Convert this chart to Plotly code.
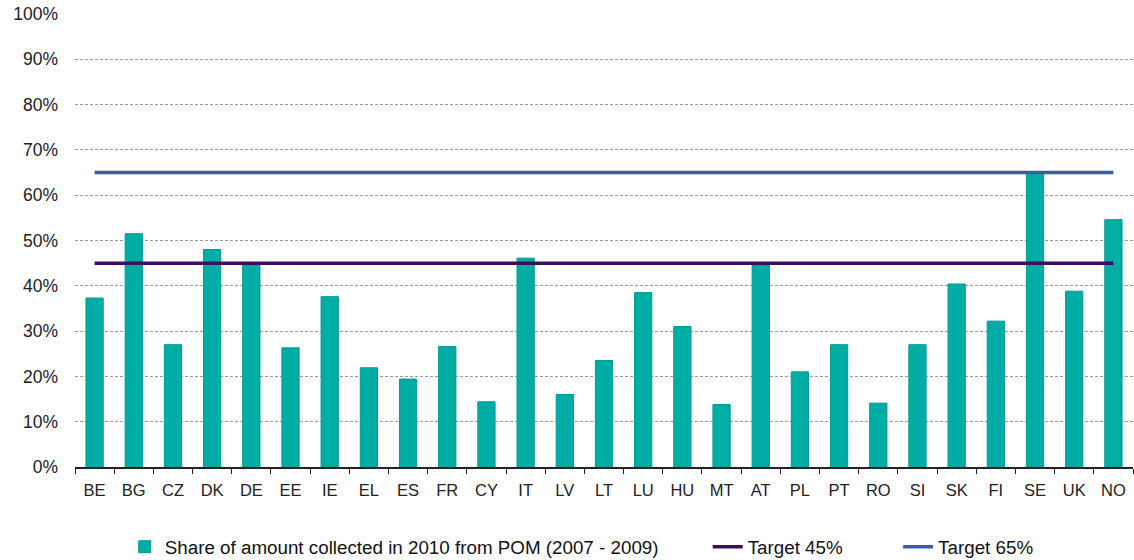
import plotly.graph_objects as go

countries = ["BE", "BG", "CZ", "DK", "DE", "EE", "IE", "EL", "ES", "FR", "CY", "IT", "LV", "LT",
             "LU", "HU", "MT", "AT", "PL", "PT", "RO", "SI", "SK", "FI", "SE", "UK", "NO"]
share = [37.3, 51.5, 27.0, 48.0, 44.6, 26.3, 37.6, 21.9, 19.4, 26.6, 14.4, 46.1, 16.0, 23.5,
         38.5, 31.0, 13.8, 44.6, 21.0, 27.0, 14.1, 27.0, 40.4, 32.2, 65.2, 38.8, 54.6]
target45 = [45] * len(countries)
target65 = [65] * len(countries)
y_ticks = [0, 10, 20, 30, 40, 50, 60, 70, 80, 90, 100]
y_ticklabels = [f"{v}%" for v in y_ticks]

series_names = ["Share of amount collected in 2010 from POM (2007 - 2009)", "Target 45%", "Target 65%"]

fig = go.Figure()
fig.add_trace(go.Bar(
    x=countries, y=share, name=series_names[0],
    marker=dict(color="#00ADA5", line=dict(color="#009A92", width=1)),
    legend="legend", showlegend=True,
))
fig.add_trace(go.Scatter(
    x=countries, y=target45, name=series_names[1], mode="lines",
    line=dict(color="#3B0F5E", width=3.5), legend="legend2", showlegend=True,
))
fig.add_trace(go.Scatter(
    x=countries, y=target65, name=series_names[2], mode="lines",
    line=dict(color="#3A5DA8", width=3.5), legend="legend3", showlegend=True,
))

legend_font = dict(family="Liberation Sans, Arial", size=18.8, color="#111")
common = dict(orientation="h", yref="container", yanchor="middle", y=0.0232, xanchor="left",
              bgcolor="rgba(0,0,0,0)", font=legend_font, itemwidth=30)

fig.update_layout(
    width=1134, height=560,
    margin=dict(l=75, r=1, t=14, b=93, autoexpand=False),
    paper_bgcolor="white", plot_bgcolor="white",
    showlegend=True,
    bargap=0.56,
    font=dict(family="Liberation Sans, Arial", size=16, color="#222"),
    legend=dict(x=0.047, **common),
    legend2=dict(x=0.598, **common),
    legend3=dict(x=0.778, **common),
    xaxis=dict(
        showline=True, linecolor="#222", linewidth=1.5,
        ticks="outside", tickson="boundaries", ticklen=5, tickcolor="#222",
        showgrid=False, ticklabelstandoff=7,
        tickfont=dict(size=16.5, color="#222"),
    ),
    yaxis=dict(
        range=[0, 100], tickmode="array", tickvals=y_ticks, ticktext=y_ticklabels,
        showline=False, zeroline=False,
        showgrid=True, gridcolor="#9A9A9A", griddash="3px,2px", gridwidth=1,
        ticklabelstandoff=16,
        tickfont=dict(size=17.5, color="#222"),
    ),
)

fig.write_html("out.html")
